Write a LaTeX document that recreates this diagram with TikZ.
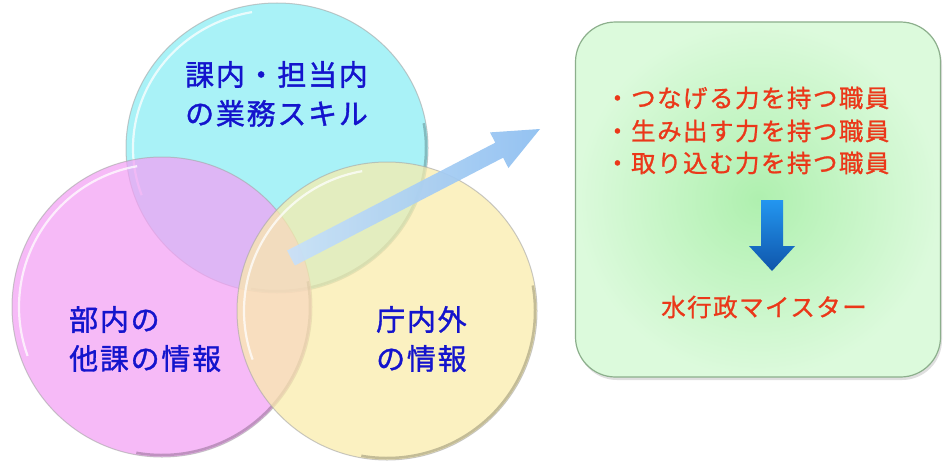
\documentclass[tikz,border=0pt]{standalone}
\usepackage{fontspec}
\newfontfamily\jpv{Noto Sans CJK JP}[LetterSpace=6,FakeBold=1.2]
\newfontfamily\jpb{Noto Sans CJK JP}[LetterSpace=6,FakeBold=1.0]
\usetikzlibrary{shapes.geometric,shadows}
\definecolor{cyanfill}{RGB}{137,237,245}
\definecolor{pinkfill}{RGB}{243,160,245}
\definecolor{yellowfill}{RGB}{250,236,170}
\definecolor{vtext}{RGB}{20,20,205}
\definecolor{rtext}{RGB}{235,55,25}
\definecolor{arrowlight}{RGB}{200,225,250}
\definecolor{arrowdark}{RGB}{140,190,240}
\definecolor{boxin}{RGB}{175,240,175}
\definecolor{boxout}{RGB}{220,250,220}
\definecolor{boxedge}{RGB}{140,175,140}
\definecolor{downtop}{RGB}{35,150,240}
\definecolor{downbot}{RGB}{15,85,170}
\begin{document}
\begin{tikzpicture}[x=1pt,y=1pt,
  venn/.style={ellipse, inner sep=0pt, fill opacity=0.72, draw=gray!70, draw opacity=0.6, line width=1pt},
  venntext/.style={font=\jpv\fontsize{29}{39}\selectfont, text=vtext, align=left, anchor=west, inner sep=0pt},
  redtext/.style={font=\jpb\fontsize{24.5}{26}\selectfont, text=rtext, anchor=west, inner sep=0pt},
  rim/.style={white, line width=2.2pt, opacity=0.75},
  shadowrim/.style={black, line width=2.5pt, opacity=0.22}]
\useasboundingbox (0,0) rectangle (944,-460);
\fill[white] (0,0) rectangle (944,-460);

% Venn circles
\node[venn, fill=cyanfill, minimum width=302pt, minimum height=290pt] (cyan) at (277,-148) {};
\draw[rim] (cyan.center) ++(100:144pt and 138pt) arc[start angle=100, end angle=200, x radius=144pt, y radius=138pt];
\draw[shadowrim] (cyan.center) ++(-100:149pt and 143pt) arc[start angle=-100, end angle=10, x radius=149pt, y radius=143pt];

\node[venn, fill=pinkfill, minimum width=300pt, minimum height=300pt] (pink) at (162,-307) {};
\draw[rim] (pink.center) ++(100:143pt and 143pt) arc[start angle=100, end angle=200, x radius=143pt, y radius=143pt];
\draw[shadowrim] (pink.center) ++(-100:148pt and 148pt) arc[start angle=-100, end angle=10, x radius=148pt, y radius=148pt];

\node[venn, fill=yellowfill, minimum width=300pt, minimum height=298pt] (yellow) at (387,-311) {};
\draw[rim] (yellow.center) ++(100:143pt and 142pt) arc[start angle=100, end angle=200, x radius=143pt, y radius=142pt];
\draw[shadowrim] (yellow.center) ++(-100:148pt and 147pt) arc[start angle=-100, end angle=10, x radius=148pt, y radius=147pt];

% big light-blue arrow
\coordinate (atail) at (291,-258);
\coordinate (atip) at (540,-129);
\shade[left color=arrowlight, right color=arrowdark, opacity=0.92]
  (294.9,-265.5) -- (287.1,-250.5) -- (495.3,-142.7) -- (490.0,-132.4) -- (atip)
  -- (508.4,-168.0) -- (503.1,-157.7) -- cycle;

% Venn texts
\node[venntext] (t1) at (185,-94) {課内・担当内\\の業務スキル};
\node[venntext] (t2) at (69,-339) {部内の\\他課の情報};
\node[venntext] (t3) at (376,-339) {庁内外\\の情報};

% green box
\node[rectangle, rounded corners=40pt, minimum width=365pt, minimum height=355pt, inner sep=0pt,
  shade, inner color=boxin, outer color=boxout, draw=boxedge, line width=1.2pt,
  drop shadow={opacity=0.25, shadow xshift=1.5pt, shadow yshift=-3pt}] (box) at (758,-199.5) {};

\node[redtext] (r1) at (605,-98) {・つなげる力を持つ職員};
\node[redtext] (r2) at (605,-131) {・生み出す力を持つ職員};
\node[redtext] (r3) at (605,-163) {・取り込む力を持つ職員};

\shade[top color=downtop, bottom color=downbot]
  (761,-200) -- (783,-200) -- (783,-246) -- (795,-246) -- (772,-271) -- (749,-246) -- (761,-246) -- cycle;

\node[redtext, anchor=center] (m) at (764,-307) {水行政マイスター};
\end{tikzpicture}
\end{document}
